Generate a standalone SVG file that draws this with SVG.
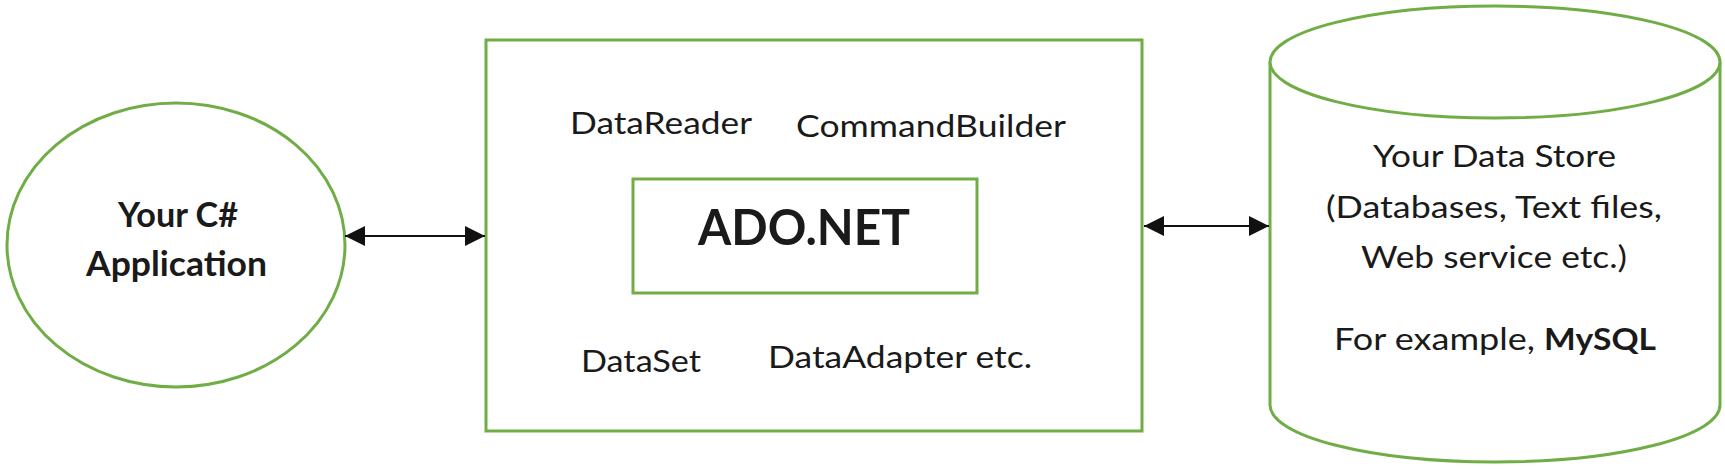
<svg xmlns="http://www.w3.org/2000/svg" width="1725" height="469" viewBox="0 0 1725 469">
<style>
.shape{fill:#fff;stroke:#70AD47;stroke-width:3}
.t{font-family:Lato,"Liberation Sans",sans-serif;fill:#1a1a1a;font-size:31px}
.b{font-weight:bold}
.app{font-size:34px}
.core{font-size:49px}
.conn{stroke:#111;stroke-width:2;fill:none}
</style>
<defs>
<marker id="ah" markerUnits="userSpaceOnUse" markerWidth="22" markerHeight="22" refX="20" refY="10" orient="auto-start-reverse" viewBox="0 0 22 20">
<path d="M0,0 L20,10 L0,20 Z" fill="#111"/>
</marker>
</defs>
<rect width="1725" height="469" fill="#fff"/>
<g id="app">
<ellipse class="shape" cx="176" cy="245" rx="169" ry="142"/>
<text class="t b app" x="118" y="227" textLength="120" lengthAdjust="spacingAndGlyphs">Your C#</text>
<text class="t b app" x="86" y="276" textLength="181" lengthAdjust="spacingAndGlyphs">Application</text>
</g>
<g id="adonet">
<rect class="shape" x="486" y="40" width="656" height="391"/>
<text class="t" x="570" y="134" textLength="182" lengthAdjust="spacingAndGlyphs">DataReader</text>
<text class="t" x="796" y="137" textLength="270" lengthAdjust="spacingAndGlyphs">CommandBuilder</text>
<text class="t" x="581" y="372" textLength="120" lengthAdjust="spacingAndGlyphs">DataSet</text>
<text class="t" x="768" y="368" textLength="264" lengthAdjust="spacingAndGlyphs">DataAdapter etc.</text>
</g>
<g id="adonet-core">
<rect class="shape" x="633" y="179" width="344" height="114"/>
<text class="t b core" x="698" y="245" textLength="212" lengthAdjust="spacingAndGlyphs">ADO.NET</text>
</g>
<g id="datastore">
<path class="shape" d="M1270,62 L1270,405 A225,57 0 0 0 1720,405 L1720,62"/>
<ellipse class="shape" cx="1495" cy="62" rx="225" ry="56"/>
<text class="t" x="1373" y="167" textLength="243" lengthAdjust="spacingAndGlyphs">Your Data Store</text>
<text class="t" x="1326" y="218" textLength="336" lengthAdjust="spacingAndGlyphs">(Databases, Text files,</text>
<text class="t" x="1361" y="268" textLength="266" lengthAdjust="spacingAndGlyphs">Web service etc.)</text>
<text class="t" y="350"><tspan x="1334" textLength="201" lengthAdjust="spacingAndGlyphs">For example,</tspan><tspan class="b" x="1544" textLength="112" lengthAdjust="spacingAndGlyphs">MySQL</tspan></text>
</g>
<g id="connectors">
<line class="conn" x1="345" y1="236" x2="485" y2="236" marker-start="url(#ah)" marker-end="url(#ah)"/>
<line class="conn" x1="1144" y1="226" x2="1269" y2="226" marker-start="url(#ah)" marker-end="url(#ah)"/>
</g>
</svg>
